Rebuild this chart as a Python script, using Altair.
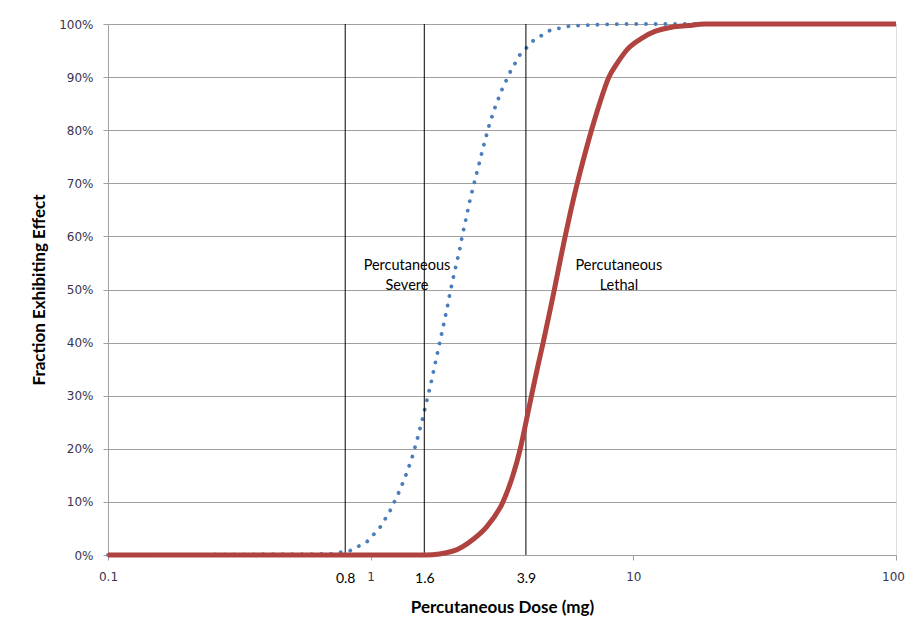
import altair as alt
import pandas as pd

# Percutaneous Severe (dotted blue)
sev_dose = [0.1, 0.704, 0.834, 0.966, 1.082, 1.181, 1.270, 1.354, 1.433, 1.501, 1.564,
            1.628, 1.692, 1.752, 1.815, 1.880, 1.947, 2.009, 2.081, 2.163, 2.232, 2.312,
            2.394, 2.495, 2.600, 2.706, 2.828, 2.980, 3.170, 3.400, 3.701, 4.159, 4.815,
            5.687, 6.78, 8.9, 100]
sev_frac = [0.0, 0.002, 0.008, 0.0245, 0.051, 0.0815, 0.114, 0.147, 0.181, 0.216, 0.250,
            0.286, 0.321, 0.356, 0.391, 0.426, 0.461, 0.496, 0.531, 0.566, 0.601, 0.636,
            0.671, 0.706, 0.741, 0.775, 0.810, 0.844, 0.878, 0.910, 0.942, 0.9686, 0.988,
            0.996, 0.998, 1.0, 1.0]

# Percutaneous Lethal (solid red)
leth_dose = [0.1, 1.619, 2.063, 2.458, 2.764, 3.189, 3.481, 3.711, 3.902, 4.094, 4.304,
             4.536, 4.768, 5.005, 5.243, 5.500, 5.787, 6.116, 6.497, 6.928, 7.436, 8.075,
             8.759, 9.563, 10.75, 12.08, 13.99, 16.18, 18.73, 100]
leth_frac = [0.0, 0.0, 0.0075, 0.0296, 0.053, 0.10, 0.15, 0.20, 0.25, 0.30, 0.35,
             0.40, 0.45, 0.50, 0.55, 0.60, 0.65, 0.70, 0.75, 0.80, 0.85, 0.90,
             0.929, 0.954, 0.973, 0.986, 0.994, 0.997, 1.0, 1.0]

# reference doses (vertical lines)
ref_doses = [0.8, 1.6, 3.9]
x_tick_values = [0.1, 0.8, 1, 1.6, 3.9, 10, 100]
y_tick_values = [0, 0.1, 0.2, 0.3, 0.4, 0.5, 0.6, 0.7, 0.8, 0.9, 1.0]

# annotations
ann_labels = [["Percutaneous", "Severe"], ["Percutaneous", "Lethal"]]
ann_dose = [1.375, 8.81]
ann_frac = [0.544, 0.544]

sev_df = pd.DataFrame({"dose": sev_dose, "frac": sev_frac})
leth_df = pd.DataFrame({"dose": leth_dose, "frac": leth_frac})
ref_df = pd.DataFrame({"dose": ref_doses, "lo": [0.0] * 3, "hi": [1.0] * 3})
ann_df = pd.DataFrame({"dose": ann_dose, "frac": ann_frac, "label": ann_labels})

special = "indexof([0.8, 1.6, 3.9], datum.value) >= 0"

xscale = alt.Scale(type="log", domain=[0.1, 100], nice=False)
yscale = alt.Scale(domain=[0, 1], nice=False)

xaxis = alt.Axis(
    title="Percutaneous Dose (mg)",
    values=x_tick_values,
    format="~g",
    grid=False,
    domainColor="#a0a0a0",
    tickColor={"condition": {"test": special, "value": "transparent"}, "value": "#a0a0a0"},
    tickSize=5,
    labelColor={"condition": {"test": special, "value": "#000000"}, "value": "#3a3450"},
    labelFont={"condition": {"test": special, "value": "Lato"}, "value": "DejaVu Sans"},
    labelFontSize={"condition": {"test": special, "value": 14}, "value": 12},
    labelOffset={"condition": {"test": "datum.value == 100", "value": -3}, "value": 0},
    labelPadding=11,
    labelFlush=False,
    labelOverlap=False,
    titleFont="Lato",
    titleFontSize=17,
    titleFontWeight="bold",
    titleColor="#000000",
    titlePadding=14,
)

yaxis = alt.Axis(
    title="Fraction Exhibiting Effect",
    values=y_tick_values,
    format=".0%",
    grid=True,
    gridColor="#a0a0a0",
    gridWidth=1,
    domainColor="#a0a0a0",
    tickColor="#a0a0a0",
    tickSize=5,
    labelColor="#3a3450",
    labelFont="DejaVu Sans",
    labelFontSize=12,
    labelPadding=10,
    titleFont="Lato",
    titleFontSize=17,
    titleFontWeight="bold",
    titleColor="#000000",
    titlePadding=10,
)

base_x = alt.X("dose:Q", scale=xscale, axis=xaxis)
base_y = alt.Y("frac:Q", scale=yscale, axis=yaxis)

rules = alt.Chart(ref_df).mark_rule(color="#000000", strokeWidth=1).encode(
    x=alt.X("dose:Q", scale=xscale),
    y=alt.Y("lo:Q", scale=yscale),
    y2="hi:Q",
)

severe = alt.Chart(sev_df).mark_line(
    color="#4a7ebb", strokeWidth=3.8, strokeCap="round", strokeDash=[0.1, 9.6]
).encode(x=base_x, y=base_y, order="dose:Q")

lethal = alt.Chart(leth_df).mark_line(
    color="#b0433f", strokeWidth=5, strokeJoin="round", interpolate="monotone"
).encode(x=alt.X("dose:Q", scale=xscale), y=alt.Y("frac:Q", scale=yscale), order="dose:Q")

ann = alt.Chart(ann_df).mark_text(
    font="Lato", fontSize=14.5, color="#000000", align="center", baseline="middle", lineHeight=20
).encode(x=alt.X("dose:Q", scale=xscale), y=alt.Y("frac:Q", scale=yscale), text="label")

chart = alt.layer(severe, rules, lethal, ann).properties(
    width=788,
    height=531,
    autosize=alt.AutoSizeParams(type="none"),
    padding={"left": 100, "top": 16, "right": 10, "bottom": 70},
).configure_view(stroke=None).configure(background="white")

chart.save("out.html", embed_options={"renderer": "svg", "actions": False})
